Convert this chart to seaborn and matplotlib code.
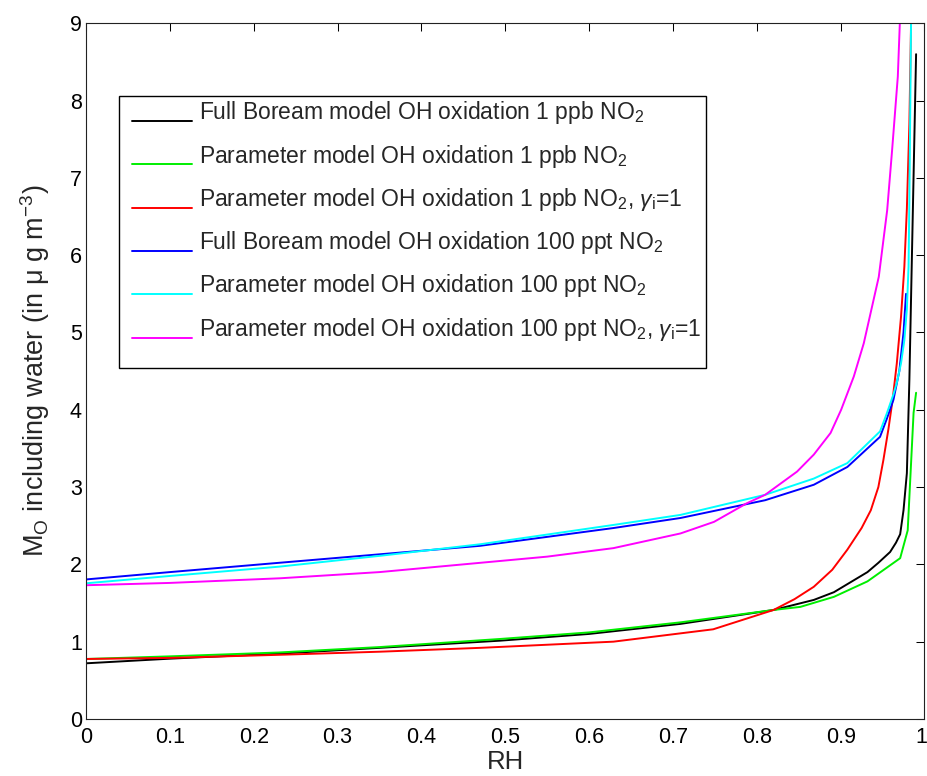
import numpy as np
import pandas as pd
import matplotlib
matplotlib.use("Agg")
import matplotlib.pyplot as plt
from matplotlib.patches import Rectangle
from matplotlib.transforms import Affine2D
import seaborn as sns

# ---- data ----
labels = [
    "Full Boream model OH oxidation 1 ppb NO$_2$",
    "Parameter model OH oxidation 1 ppb NO$_2$",
    "Parameter model OH oxidation 1 ppb NO$_2$, $\\gamma_\\mathrm{i}$=1",
    "Full Boream model OH oxidation 100 ppt NO$_2$",
    "Parameter model OH oxidation 100 ppt NO$_2$",
    "Parameter model OH oxidation 100 ppt NO$_2$, $\\gamma_\\mathrm{i}$=1",
]
colors = ["#000000", "#00ee00", "#ff0000", "#0000ff", "#00ffff", "#ff00ff"]

rh_black = [0.0, 0.1, 0.23, 0.35, 0.494, 0.6, 0.709, 0.82, 0.868, 0.892, 0.932, 0.945, 0.959, 0.966, 0.971, 0.975, 0.979, 0.982, 0.986, 0.990]
mo_black = [0.72, 0.78, 0.845, 0.92, 1.013, 1.10, 1.23, 1.41, 1.54, 1.64, 1.90, 2.02, 2.16, 2.28, 2.39, 2.70, 3.18, 4.39, 6.5, 8.6]

rh_green = [0.0, 0.1, 0.23, 0.35, 0.494, 0.6, 0.709, 0.82, 0.852, 0.892, 0.932, 0.971, 0.980, 0.983, 0.987, 0.990]
mo_green = [0.776, 0.81, 0.86, 0.93, 1.035, 1.12, 1.25, 1.41, 1.45, 1.58, 1.78, 2.08, 2.44, 3.09, 3.96, 4.22]

rh_red = [0.0, 0.1, 0.23, 0.35, 0.47, 0.629, 0.748, 0.82, 0.845, 0.868, 0.89, 0.908, 0.925, 0.936, 0.945, 0.951, 0.957, 0.962, 0.967, 0.972, 0.976, 0.979, 0.982, 0.984]
mo_red = [0.776, 0.79, 0.83, 0.87, 0.92, 1.00, 1.16, 1.41, 1.55, 1.71, 1.93, 2.19, 2.47, 2.70, 3.00, 3.35, 3.75, 4.13, 4.60, 5.20, 5.85, 6.60, 7.70, 9.0]

rh_blue = [0.0, 0.1, 0.23, 0.35, 0.47, 0.629, 0.709, 0.81, 0.868, 0.908, 0.947, 0.955, 0.963, 0.970, 0.975, 0.978]
mo_blue = [1.805, 1.90, 2.02, 2.13, 2.24, 2.47, 2.60, 2.83, 3.03, 3.26, 3.65, 3.88, 4.13, 4.50, 5.00, 5.50]

rh_cyan = [0.0, 0.1, 0.23, 0.35, 0.47, 0.629, 0.709, 0.81, 0.868, 0.908, 0.947, 0.955, 0.963, 0.967, 0.972, 0.976, 0.979, 0.981, 0.982, 0.984]
mo_cyan = [1.755, 1.85, 1.97, 2.11, 2.26, 2.51, 2.64, 2.90, 3.11, 3.31, 3.72, 3.95, 4.20, 4.35, 4.60, 4.90, 5.30, 5.85, 6.71, 9.0]

rh_magenta = [0.0, 0.1, 0.2315, 0.35, 0.47, 0.55, 0.629, 0.709, 0.749, 0.788, 0.81, 0.848, 0.868, 0.888, 0.9006, 0.9157, 0.9276, 0.9455, 0.9555, 0.9614, 0.9682, 0.9706]
mo_magenta = [1.73, 1.76, 1.82, 1.90, 2.02, 2.10, 2.21, 2.40, 2.55, 2.79, 2.90, 3.20, 3.42, 3.70, 4.00, 4.43, 4.86, 5.72, 6.58, 7.36, 8.31, 9.0]

xticks = [0, 0.1, 0.2, 0.3, 0.4, 0.5, 0.6, 0.7, 0.8, 0.9, 1]
yticks = [0, 1, 2, 3, 4, 5, 6, 7, 8, 9]

series_x = [rh_black, rh_green, rh_red, rh_blue, rh_cyan, rh_magenta]
series_y = [mo_black, mo_green, mo_red, mo_blue, mo_cyan, mo_magenta]

frames = []
for lab, xs, ys in zip(labels, series_x, series_y):
    frames.append(pd.DataFrame({"RH": xs, "MO": ys, "series": lab}))
df = pd.concat(frames, ignore_index=True)

# ---- style ----
sns.set_style("white")
plt.rcParams["font.family"] = ["Liberation Sans", "DejaVu Sans"]
plt.rcParams["mathtext.fontset"] = "custom"
plt.rcParams["mathtext.rm"] = "Liberation Sans"
plt.rcParams["mathtext.it"] = "Liberation Sans:italic"
plt.rcParams["mathtext.bf"] = "Liberation Sans:bold"

fig = plt.figure(figsize=(9.28, 7.76), dpi=100)
ax = fig.add_axes([0.0927, 0.0735, 0.9035, 0.8965])

sns.lineplot(data=df, x="RH", y="MO", hue="series", hue_order=labels,
             palette=dict(zip(labels, colors)), estimator=None, sort=False,
             linewidth=1.4, ax=ax)

ax.set_xlim(0, 1)
ax.set_ylim(0, 9)
ax.set_xticks(xticks)
ax.set_xticklabels([("%g" % t) for t in xticks])
ax.set_yticks(yticks)
ax.tick_params(direction="in", length=5.8, width=0.75, top=True, right=True,
               labelsize=15.5, colors="black")
ax.tick_params(axis="x", pad=6)
ax.tick_params(axis="y", pad=3)
for s in ax.spines.values():
    s.set_color("#222222")
    s.set_linewidth(0.8)

# keep the last x tick label ("1") inside the canvas
last = ax.get_xticklabels()[-1]
last.set_transform(last.get_transform() + Affine2D().translate(-3, 0))

ax.set_xlabel("RH", fontsize=18.5, labelpad=1)
ax.set_ylabel("M$_\\mathrm{O}$ including water (in μ g m$^{-3}$)", fontsize=19.5, labelpad=13)

# legend text and handles (frame drawn separately like MATLAB's box)
leg = ax.legend(loc="upper left", bbox_to_anchor=(0.0549, 0.8908), borderaxespad=0,
                fontsize=16.5, frameon=False,
                handlelength=2.62, handletextpad=0.3, labelspacing=0.71,
                borderpad=0)
for h in leg.legend_handles:
    h.set_linewidth(1.4)
    h.set_transform(h.get_transform() + Affine2D().translate(0, -10))
box = Rectangle((0.0397, 0.5047), 0.7394 - 0.0397, 0.8956 - 0.5047,
                transform=ax.transAxes, fill=True, facecolor="white",
                edgecolor="black", linewidth=1.0, zorder=4)
ax.add_patch(box)
leg.set_zorder(5)

fig.savefig("out.png", dpi=100)
